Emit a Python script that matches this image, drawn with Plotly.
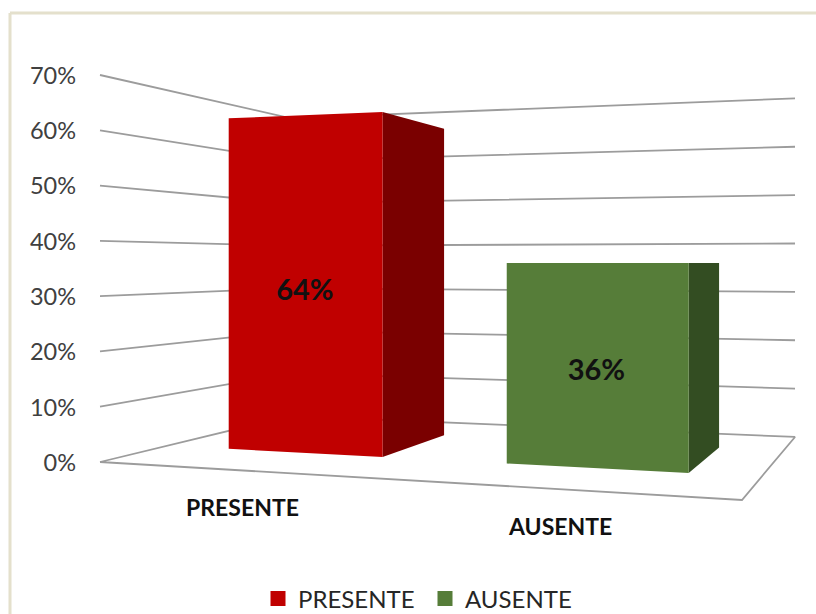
import numpy as np
import plotly.graph_objects as go

# ---- data ----
categories = ["PRESENTE", "AUSENTE"]
values = [64, 36]
value_labels = ["64%", "36%"]
axis_ticks = [0, 10, 20, 30, 40, 50, 60, 70]
tick_labels = ["0%", "10%", "20%", "30%", "40%", "50%", "60%", "70%"]

# ---- styles ----
front_colors = ["#C00000", "#567D39"]
side_colors = ["#7A0000", "#334D22"]
grid_color = "#9C9C9C"
text_color = "#404040"
FONT = "Lato, Carlito, 'Open Sans', sans-serif"

# ---- perspective camera: unit floor (u across, v depth) -> screen ----
FLOOR = dict(a=513.4, b=274.0, c=100.0, d=-48.65, e=74.4, f=462.0, g=-0.1733, h=0.2895)
HORIZON = 262.0
AXIS_MAX = 70.0
HEIGHT_SCALE = 1.935
BAR_SPANS = [(0.12, 0.403), (0.613, 0.895)]
BAR_DEPTH = (0.30, 0.73)
CATEGORY_LABEL_UV = [(0.407, -0.41), (0.824, -0.38)]


def project(u, v, z):
    w = FLOOR["g"] * u + FLOOR["h"] * v + 1
    sx = (FLOOR["a"] * u + FLOOR["b"] * v + FLOOR["c"]) / w
    sy = (FLOOR["d"] * u + FLOOR["e"] * v + FLOOR["f"]) / w
    return sx, sy - HEIGHT_SCALE * (sy - HORIZON) * z / AXIS_MAX


def path(points):
    xy = [project(*p) for p in points]
    return [p[0] for p in xy], [p[1] for p in xy]


fig = go.Figure()


def add_line(points):
    x, y = path(points)
    fig.add_trace(go.Scatter(x=x, y=y, mode="lines", line=dict(color=grid_color, width=1.8),
                             hoverinfo="skip", showlegend=False))


# Floor outline
add_line([(0, 0, 0), (1, 0, 0), (1, 1, 0), (0, 1, 0), (0, 0, 0)])
# Gridlines: left wall then back wall
for t in axis_ticks[1:]:
    add_line([(0, 0, t), (0, 1, t), (1, 1, t)])

# Bars (side first, front over it)
for i, val in enumerate(values):
    u0, u1 = BAR_SPANS[i]
    v0, v1 = BAR_DEPTH
    x, y = path([(u1, v0, 0), (u1, v1, 0), (u1, v1, val), (u1, v0, val), (u1, v0, 0)])
    fig.add_trace(go.Scatter(x=x, y=y, mode="lines", fill="toself", fillcolor=side_colors[i],
                             line=dict(width=0), hoverinfo="skip", showlegend=False))
    x, y = path([(u0, v0, 0), (u1, v0, 0), (u1, v0, val), (u0, v0, val), (u0, v0, 0)])
    fig.add_trace(go.Scatter(x=x, y=y, mode="lines", fill="toself", fillcolor=front_colors[i],
                             line=dict(width=0), name=categories[i], showlegend=False))
    # value label at centre of the front face
    lx, ly = project((u0 + u1) / 2, v0, val * 0.485)
    fig.add_trace(go.Scatter(x=[lx + 1], y=[ly + 4], mode="text", text=[value_labels[i]],
                             textfont=dict(family=FONT, size=29, color="#111111", weight="bold"),
                             textposition="middle center", hoverinfo="skip", showlegend=False))
    # category label in front of the floor
    cx, cy = project(*CATEGORY_LABEL_UV[i], 0)
    fig.add_trace(go.Scatter(x=[cx], y=[cy + 2], mode="text", text=[categories[i]],
                             textfont=dict(family=FONT, size=23, color="#111111", weight="bold"),
                             textposition="middle center", hoverinfo="skip", showlegend=False))

# Value axis labels, left of the wall's front edge
tx, ty = zip(*[project(0, 0, t) for t in axis_ticks])
fig.add_trace(go.Scatter(x=[v - 24 for v in tx], y=[v + 3 for v in ty], mode="text", text=tick_labels,
                         textposition="middle left",
                         textfont=dict(family=FONT, size=23.5, color=text_color),
                         hoverinfo="skip", showlegend=False))

# Legend swatches
for name, color in zip(categories, front_colors):
    fig.add_trace(go.Scatter(x=[None], y=[None], mode="markers", name=name,
                             marker=dict(symbol="square", size=15, color=color)))

fig.update_layout(
    width=816, height=614, autosize=False,
    margin=dict(l=0, r=0, t=0, b=0, autoexpand=False),
    paper_bgcolor="white", plot_bgcolor="white",
    xaxis=dict(range=[0, 816], visible=False, fixedrange=True),
    yaxis=dict(range=[614, 0], visible=False, fixedrange=True),
    legend=dict(orientation="h", x=258 / 816, xanchor="left", y=-0.012, yanchor="bottom",
                font=dict(family=FONT, size=24, color="#262626"),
                bgcolor="rgba(0,0,0,0)", itemwidth=30, tracegroupgap=0,
                entrywidth=122, entrywidthmode="pixels"),
    shapes=[
        dict(type="line", xref="paper", yref="paper", x0=10 / 816, x1=1, y0=1 - 13 / 614, y1=1 - 13 / 614,
             line=dict(color="#E4E0CC", width=3)),
        dict(type="line", xref="paper", yref="paper", x0=10 / 816, x1=10 / 816, y0=0, y1=1 - 13 / 614,
             line=dict(color="#E4E0CC", width=3)),
    ],
)
fig.write_html("out.html", post_script="document.body.style.margin='0';",
               config={"displayModeBar": False})
